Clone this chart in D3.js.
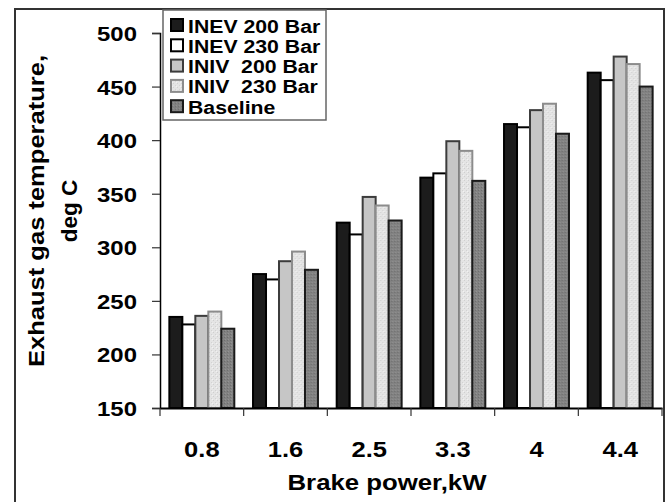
<!DOCTYPE html>
<html><head><meta charset="utf-8">
<script src="https://cdn.jsdelivr.net/npm/d3@7"></script>
<style>
html,body{margin:0;padding:0;background:#fff;}
svg{display:block;}
text{font-family:"Liberation Sans",Arial,sans-serif;font-weight:bold;fill:#000;}
</style></head>
<body>
<svg id="c" width="668" height="502"></svg>
<script>
const categories = ["0.8","1.6","2.5","3.3","4","4.4"];
const seriesNames = ["INEV 200 Bar","INEV 230 Bar","INIV  200 Bar","INIV  230 Bar","Baseline"];
const inev200 = [235,275,323,365,415,463];
const inev230 = [228,270,312,369,412,456];
const iniv200 = [236,287,347,399,428,478];
const iniv230 = [240,296,339,390,434,471];
const baseline = [224,279,325,362,406,450];
const yTicks = [150,200,250,300,350,400,450,500];
const xTitle = "Brake power,kW";
const yTitle1 = "Exhaust gas temperature,";
const yTitle2 = "deg C";

const seriesValues = [inev200,inev230,iniv200,iniv230,baseline];

const svg = d3.select("#c");
const defs = svg.append("defs");

// textures
const p1 = defs.append("pattern").attr("id","stip").attr("width",4).attr("height",4).attr("patternUnits","userSpaceOnUse");
p1.append("rect").attr("width",4).attr("height",4).attr("fill","#e4e4e4");
p1.append("rect").attr("x",1).attr("y",0).attr("width",1).attr("height",1).attr("fill","#cfcfcf");
p1.append("rect").attr("x",3).attr("y",2).attr("width",1).attr("height",1).attr("fill","#d2d2d2");
p1.append("rect").attr("x",0).attr("y",3).attr("width",1).attr("height",1).attr("fill","#f2f2f2");
const p2 = defs.append("pattern").attr("id","dark").attr("width",3).attr("height",3).attr("patternUnits","userSpaceOnUse");
p2.append("rect").attr("width",3).attr("height",3).attr("fill","#828282");
p2.append("rect").attr("x",1).attr("y",1).attr("width",1).attr("height",1).attr("fill","#6e6e6e");
p2.append("rect").attr("x",2).attr("y",0).attr("width",1).attr("height",1).attr("fill","#939393");

const fills = ["#1c1c1c","#ffffff","#c6c6c6","url(#stip)","url(#dark)"];
const strokes = ["#000000","#000000","#3c3c3c","#8c8c8c","#1a1a1a"];

// outer frame
svg.append("rect").attr("x",15).attr("y",9).attr("width",649).attr("height",520)
  .attr("fill","none").attr("stroke","#333").attr("stroke-width",2);

const x = d3.scaleBand().domain(categories).range([160,662]).paddingInner(0).paddingOuter(0);
const xs = d3.scaleBand().domain(d3.range(seriesNames.length)).range([0,x.bandwidth()]).paddingInner(0).paddingOuter(0.72);
const y = d3.scaleLinear().domain([150,500]).range([408,33]);

function stretch(sel,k){
  sel.each(function(){
    const w = this.getComputedTextLength();
    d3.select(this).attr("textLength",w*k).attr("lengthAdjust","spacingAndGlyphs");
  });
}

// bars
const g = svg.append("g");
categories.forEach((c,ci)=>{
  const grp = g.append("g").attr("transform",`translate(${x(c)},0)`);
  grp.selectAll("rect").data(seriesValues.map((s,si)=>({si,v:s[ci]}))).join("rect")
    .attr("x",d=>xs(d.si)).attr("width",xs.bandwidth())
    .attr("y",d=>y(d.v)).attr("height",d=>y(150)-y(d.v))
    .attr("fill",d=>fills[d.si]).attr("stroke",d=>strokes[d.si]).attr("stroke-width",2);
});

// y axis
const ya = svg.append("g").attr("transform","translate(160,0)")
  .call(d3.axisLeft(y).tickValues(yTicks).tickSize(8).tickPadding(15).tickFormat(d3.format("d")));
ya.select(".domain").attr("stroke","#000").attr("stroke-width",1.5);
ya.selectAll(".tick line").attr("stroke","#333").attr("stroke-width",1.2);
ya.selectAll(".tick text").attr("font-size",21).attr("dy","0.36em").style("font-family","'Liberation Sans',Arial,sans-serif").style("font-weight","bold").attr("x",-23);
stretch(ya.selectAll(".tick text"),1.14);

// x axis
const xa = svg.append("g").attr("transform","translate(0,408)")
  .call(d3.axisBottom(x).tickSize(0).tickPadding(33));
xa.select(".domain").attr("stroke","#000").attr("stroke-width",2);
xa.selectAll(".tick text").attr("font-size",22).attr("dy","0.71em").style("font-family","'Liberation Sans',Arial,sans-serif").style("font-weight","bold");
stretch(xa.selectAll(".tick text"),1.16);
const bounds = categories.map(c=>x(c)).concat([x.range()[1]]);
svg.append("g").selectAll("line").data(bounds).join("line")
  .attr("x1",d=>d).attr("x2",d=>d).attr("y1",408).attr("y2",416)
  .attr("stroke","#333").attr("stroke-width",1.2);

// titles
const xt = svg.append("text").attr("x",387).attr("y",490).attr("text-anchor","middle").attr("font-size",22.5).text(xTitle);
xt.attr("textLength",199).attr("lengthAdjust","spacingAndGlyphs");
const yt1 = svg.append("text").attr("transform","translate(44,211) rotate(-90)").attr("text-anchor","middle").attr("font-size",22.5).text(yTitle1);
yt1.attr("textLength",312).attr("lengthAdjust","spacingAndGlyphs");
const yt2 = svg.append("text").attr("transform","translate(77,211) rotate(-90)").attr("text-anchor","middle").attr("font-size",22.5).text(yTitle2);

// legend
const lg = svg.append("g");
lg.append("rect").attr("x",163).attr("y",10).attr("width",163).attr("height",110)
  .attr("fill","#fff").attr("stroke","#666").attr("stroke-width",1.5);
const items = lg.selectAll("g.it").data(seriesNames).join("g").attr("class","it")
  .attr("transform",(d,i)=>`translate(0,${18 + i*20.3})`);
items.append("rect").attr("x",171).attr("y",1).attr("width",12).attr("height",12)
  .attr("fill",(d,i)=>fills[i]).attr("stroke",(d,i)=>strokes[i]).attr("stroke-width",2);
const lt = items.append("text").attr("x",188).attr("y",14.5).attr("font-size",18).attr("xml:space","preserve").style("white-space","pre").text(d=>d);
stretch(lt,1.18);
</script>
</body></html>
